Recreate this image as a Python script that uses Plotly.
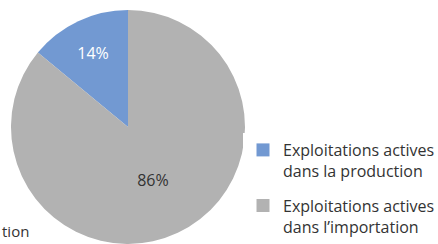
import plotly.graph_objects as go

labels = ["Exploitations actives<br>dans la production", "Exploitations actives<br>dans l\u2019importation"]
values = [14, 86]
colors = ["#7299D2", "#B2B2B2"]

fig = go.Figure(go.Pie(
    labels=labels, values=values, sort=False, direction="clockwise", rotation=-50.4,
    marker=dict(colors=colors, line=dict(width=0)),
    texttemplate="%{percent:.0%}", textposition="inside",
    insidetextfont=dict(color=["#FFFFFF", "#333333"], size=16, family="Open Sans"),
    domain=dict(x=[11/438, 245/438], y=[0, 234/244]),
    hoverinfo="skip", showlegend=False,
))
# legend entries (square keys) for each slice
for lab, col in zip(labels, colors):
    fig.add_trace(go.Scatter(
        x=[None], y=[None], mode="markers", name=lab, legendgroup=lab,
        marker=dict(symbol="square", size=13, color=col), hoverinfo="skip",
    ))
fig.add_annotation(text="tion", x=0, y=13/244, xref="paper", yref="paper", xanchor="left", yanchor="middle",
                   showarrow=False, font=dict(size=15, color="#333333", family="Open Sans"))
fig.update_layout(
    width=438, height=244, margin=dict(l=0, r=0, t=0, b=0, autoexpand=False),
    paper_bgcolor="white", plot_bgcolor="white",
    font=dict(family="Open Sans", size=16, color="#333333"),
    xaxis=dict(visible=False), yaxis=dict(visible=False),
    legend=dict(x=243/438, y=1 - 133/244, xanchor="left", yanchor="top", valign="top",
                tracegroupgap=11, itemwidth=30, font=dict(size=16, color="#333333")),
)
fig.write_html("out.html", config={"displayModeBar": False},
               post_script="document.body.style.margin='0';")
